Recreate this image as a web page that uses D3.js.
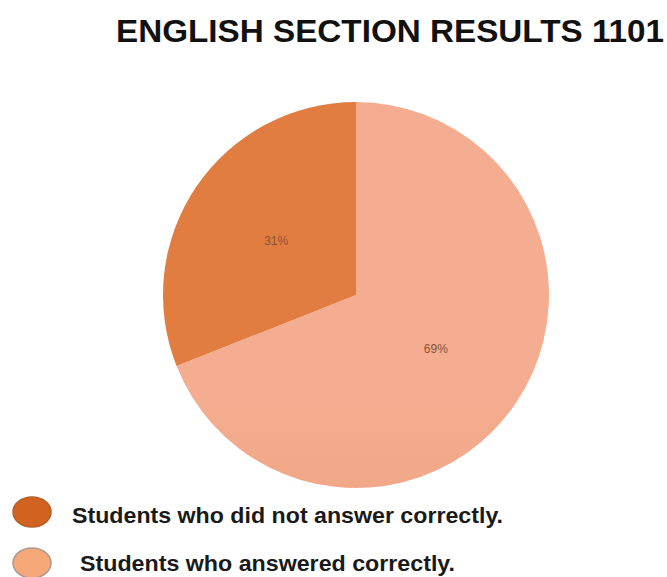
<!DOCTYPE html>
<html>
<head>
<meta charset="utf-8">
<script src="https://cdn.jsdelivr.net/npm/d3@7"></script>
<style>
  body { margin: 0; background: #fff; }
  svg { display: block; font-family: "Liberation Sans", Arial, sans-serif; }
</style>
</head>
<body>
<div id="chart"></div>
<script>
// data
const categories = ["Students who answered correctly.", "Students who did not answer correctly."];
const values = [69, 31];
const sliceLabels = ["69%", "31%"];
const legendOrder = [1, 0];

const width = 667, height = 577;
const cx = 356, cy = 295, radius = 193;

const svg = d3.select("#chart").append("svg")
    .attr("width", width)
    .attr("height", height);

// gradients for the slices
const defs = svg.append("defs");
const grads = [
  { id: "gLight", top: "#f4ad90", bottom: "#e7966f" },
  { id: "gDark", top: "#e17d41", bottom: "#d4621a" }
];
grads.forEach(g => {
  const lg = defs.append("linearGradient")
      .attr("id", g.id)
      .attr("gradientUnits", "userSpaceOnUse")
      .attr("x1", 0).attr("y1", cy - radius)
      .attr("x2", 0).attr("y2", cy + radius);
  lg.append("stop").attr("offset", "0%").attr("stop-color", g.top);
  lg.append("stop").attr("offset", "100%").attr("stop-color", g.bottom);
});
const fills = ["url(#gLight)", "url(#gDark)"];
const legendFills = ["#f6a879", "#d2621f"];

// title
svg.append("text")
    .attr("x", 116)
    .attr("y", 42)
    .attr("font-size", 31)
    .attr("font-weight", "bold")
    .attr("fill", "#111")
    .attr("textLength", 548)
    .attr("lengthAdjust", "spacingAndGlyphs")
    .text("ENGLISH SECTION RESULTS 1101");

// pie
const pie = d3.pie().sort(null).value(d => d);
const arcs = pie(values);
const arc = d3.arc().innerRadius(0).outerRadius(radius);
const labelArc = d3.arc().innerRadius(radius * 0.5).outerRadius(radius * 0.5);

const g = svg.append("g").attr("transform", `translate(${cx},${cy})`);

g.selectAll("path")
  .data(arcs)
  .join("path")
    .attr("d", arc)
    .attr("fill", (d, i) => fills[i]);

g.selectAll("text")
  .data(arcs)
  .join("text")
    .attr("transform", d => `translate(${labelArc.centroid(d)})`)
    .attr("text-anchor", "middle")
    .attr("dy", "0.35em")
    .attr("font-size", 12)
    .attr("fill", "#8a5238")
    .text((d, i) => sliceLabels[i]);

// legend
const legendY = [512, 563];
const legendX = [72, 80];
const legendW = [431, 375];
const leg = svg.append("g");
legendOrder.forEach((idx, j) => {
  leg.append("ellipse")
      .attr("cx", 32)
      .attr("cy", legendY[j])
      .attr("rx", 19)
      .attr("ry", 15)
      .attr("fill", legendFills[idx])
      .attr("stroke", idx === 1 ? "#b0602a" : "#a89a90")
      .attr("stroke-width", 1.5);
  leg.append("text")
      .attr("x", legendX[j])
      .attr("y", legendY[j] + (j === 0 ? 11 : 8))
      .attr("font-size", 22)
      .attr("font-weight", "bold")
      .attr("fill", "#1a1a1a")
      .attr("textLength", legendW[j])
      .attr("lengthAdjust", "spacingAndGlyphs")
      .text(categories[idx]);
});
</script>
</body>
</html>
